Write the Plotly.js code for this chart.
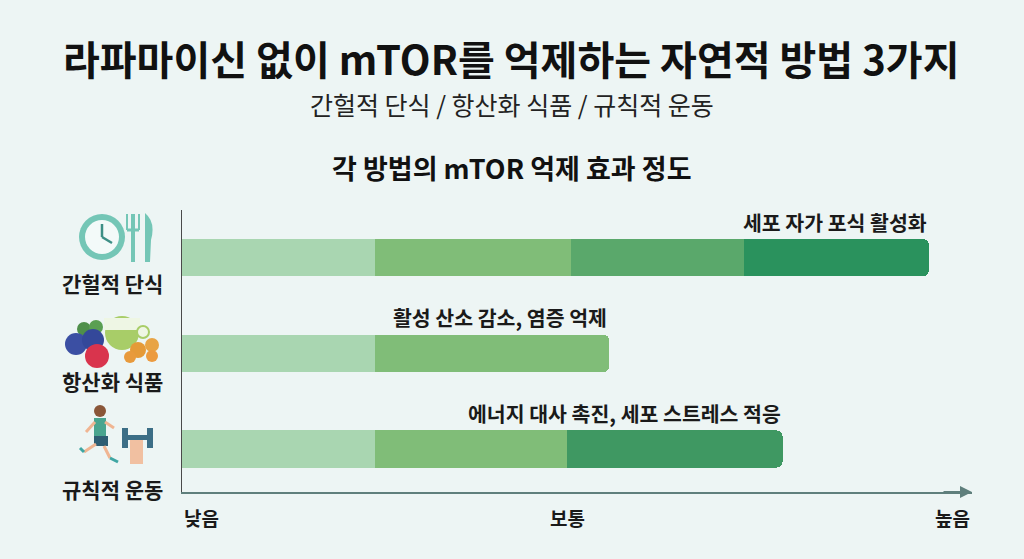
<!DOCTYPE html>
<html><head><meta charset="utf-8">
<script src="https://cdn.plot.ly/plotly-3.0.1.min.js"></script>
<style>html,body{margin:0;padding:0;background:#edf5f4;}#chart{width:1024px;height:559px;}</style>
</head><body><div id="chart"></div>
<script>
// ---- data ----
const categories = ["간헐적 단식", "항산화 식품", "규칙적 운동"];
const stage1 = [2.5, 2.5, 2.5];
const stage2 = [2.55, 3.05, 2.5];
const stage3 = [2.25, null, 2.8];
const stage4 = [2.4, null, null];
const effectNotes = ["세포 자가 포식 활성화", "활성 산소 감소, 염증 억제", "에너지 대사 촉진, 세포 스트레스 적응"];
const tickLabels = ["낮음", "보통", "높음"];
const tickValues = [0, 5, 10];
const titleText = "라파마이신 없이 mTOR를 억제하는 자연적 방법 3가지";
const subtitleText = "간헐적 단식 / 항산화 식품 / 규칙적 운동";
const chartTitleText = "각 방법의 mTOR 억제 효과 정도";

// ---- layout helpers ----
const W = 1024, H = 559, L = 182, R = 52, T = 210, B = 67;
const pw = W - L - R, ph = H - T - B;
const px = x => (x - L) / pw;
const py = y => (H - B - y) / ph;
const FONT = "Noto Sans CJK KR, Noto Sans, sans-serif";

const stages = [stage1, stage2, stage3, stage4];
const colors = [
  ["#a9d6b1", "#a9d6b1", "#a9d6b1"],
  ["#80bd78", "#80bd78", "#80bd78"],
  ["#5aa86b", "#5aa86b", "#3f9862"],
  ["#2a925d", "#2a925d", "#2a925d"]
];
const traces = stages.map((s, i) => ({
  type: "bar", orientation: "h", y: categories, x: s,
  marker: {color: colors[i], line: {width: 0}},
  width: 0.39, hoverinfo: "skip", showlegend: false
}));

const totals = categories.map((c, k) => stages.reduce((a, s) => a + (s[k] || 0), 0));

const annotations = [];
annotations.push({xref:"paper", yref:"paper", x: px(511), y: py(58), text: "<b>" + titleText + "</b>", showarrow:false,
  font:{family:FONT, size:40, color:"#111"}, xanchor:"center", yanchor:"middle"});
annotations.push({xref:"paper", yref:"paper", x: px(512), y: py(104), text: subtitleText, showarrow:false,
  font:{family:FONT, size:25, color:"#222"}, xanchor:"center", yanchor:"middle"});
annotations.push({xref:"paper", yref:"paper", x: px(511), y: py(168), text: "<b>" + chartTitleText + "</b>", showarrow:false,
  font:{family:FONT, size:27, color:"#111"}, xanchor:"center", yanchor:"middle"});
categories.forEach((c, k) => {
  annotations.push({xref:"x", yref:"y", x: totals[k], y: c, yshift: 36, text: "<b>" + effectNotes[k] + "</b>", showarrow:false,
    font:{family:FONT, size:20.5, color:"#1a1a1a"}, xanchor:"right", yanchor:"middle"});
});
const catLabelY = [283, 381, 489];
categories.forEach((c, k) => {
  annotations.push({xref:"paper", yref:"paper", x: px(112), y: py(catLabelY[k]), text: "<b>" + c + "</b>", showarrow:false,
    font:{family:FONT, size:21, color:"#1a1a1a"}, xanchor:"center", yanchor:"middle"});
});
const tickAnchors = ["left", "center", "center"];
tickLabels.forEach((t, i) => {
  annotations.push({xref:"x", yref:"paper", x: tickValues[i], y: py(517), text: "<b>" + t + "</b>", showarrow:false,
    font:{family:FONT, size:19, color:"#1a1a1a"}, xanchor: tickAnchors[i], yanchor:"middle"});
});
// axis arrow
annotations.push({xref:"paper", yref:"paper", x: 1.0, y: 0, ax: -30, ay: 0, text: "", showarrow:true,
  arrowhead: 2, arrowsize: 1.2, arrowwidth: 2, arrowcolor: "#5f7f7c"});

// decorative icons
const shapes = [];
function circ(cx, cy, r, fill, line) {
  shapes.push({type:"circle", xref:"paper", yref:"paper", x0:px(cx-r), x1:px(cx+r), y0:py(cy+r), y1:py(cy-r),
    fillcolor:fill, line:{color: line || fill, width: line ? 2 : 0}, layer:"above"});
}
function rect(x0, y0, x1, y1, fill) {
  shapes.push({type:"rect", xref:"paper", yref:"paper", x0:px(x0), x1:px(x1), y0:py(y1), y1:py(y0),
    fillcolor:fill, line:{width:0}, layer:"above"});
}
function seg(x0, y0, x1, y1, color, w) {
  shapes.push({type:"line", xref:"paper", yref:"paper", x0:px(x0), x1:px(x1), y0:py(y0), y1:py(y1),
    line:{color:color, width:w}, layer:"above"});
}
// clock + cutlery
circ(102, 237, 23, "#74c6b6");
circ(102, 237, 17, "#f3faf9");
seg(102, 237, 102, 224, "#3d8f86", 2.5);
seg(102, 237, 112, 243, "#3d8f86", 2.5);
seg(133, 214, 133, 262, "#74c6b6", 4);
seg(127, 214, 127, 230, "#74c6b6", 2);
seg(139, 214, 139, 230, "#74c6b6", 2);
seg(127, 230, 139, 230, "#74c6b6", 3);
shapes.push({type:"path", xref:"paper", yref:"paper", layer:"above", fillcolor:"#74c6b6", line:{width:0},
  path:`M ${px(145)} ${py(262)} L ${px(145)} ${py(213)} Q ${px(156)} ${py(222)} ${px(151)} ${py(240)} L ${px(150)} ${py(262)} Z`});
// antioxidant foods
circ(84, 329, 7, "#4f8f4a");
circ(96, 327, 7, "#5a9f52");
circ(122, 333, 17, "#a8cd68");
rect(104, 318, 140, 330, "#eef6e4");
circ(143, 332, 6, "#eef6e4", "#a8cd68");
circ(76, 344, 11, "#3b4fa3");
circ(93, 340, 11, "#34489a");
circ(97, 356, 12, "#d9344d");
circ(138, 350, 8, "#e59a38");
circ(152, 345, 7, "#e8a445");
circ(130, 357, 6, "#e89a3c");
circ(152, 356, 6, "#ec9b3f");
// runner + dumbbell
circ(100, 411, 6, "#8a5638");
rect(94, 418, 106, 438, "#4aa58f");
rect(94, 436, 108, 446, "#2f5e73");
seg(96, 444, 84, 452, "#f0b592", 3);
seg(84, 452, 80, 448, "#3fa6a3", 3);
seg(104, 446, 110, 458, "#f0b592", 3);
seg(110, 458, 118, 462, "#3fa6a3", 3);
seg(95, 422, 86, 432, "#f0b592", 3);
seg(105, 422, 114, 428, "#f0b592", 3);
rect(122, 428, 128, 448, "#3c6e86");
rect(147, 428, 153, 448, "#3c6e86");
rect(128, 435, 147, 440, "#3c6e86");
rect(130, 440, 143, 464, "#f1c0a1");

const layout = {
  width: W, height: H,
  margin: {l: L, r: R, t: T, b: B, pad: 0},
  paper_bgcolor: "#edf5f4", plot_bgcolor: "rgba(0,0,0,0)",
  barmode: "stack", barcornerradius: 6,
  xaxis: {range: [0, pw / 77], showgrid: false, zeroline: false, showticklabels: false, ticks: "",
    showline: true, linecolor: "#5f7f7c", linewidth: 2, fixedrange: true},
  yaxis: {type: "category", categoryorder: "array", categoryarray: categories, range: [2.45, -0.5],
    showgrid: false, zeroline: false, showticklabels: false, ticks: "",
    showline: true, linecolor: "#4a4a4a", linewidth: 1.5, fixedrange: true},
  annotations: annotations, shapes: shapes,
  font: {family: FONT}
};
Plotly.newPlot("chart", traces, layout, {displayModeBar: false, staticPlot: true});
</script></body></html>
